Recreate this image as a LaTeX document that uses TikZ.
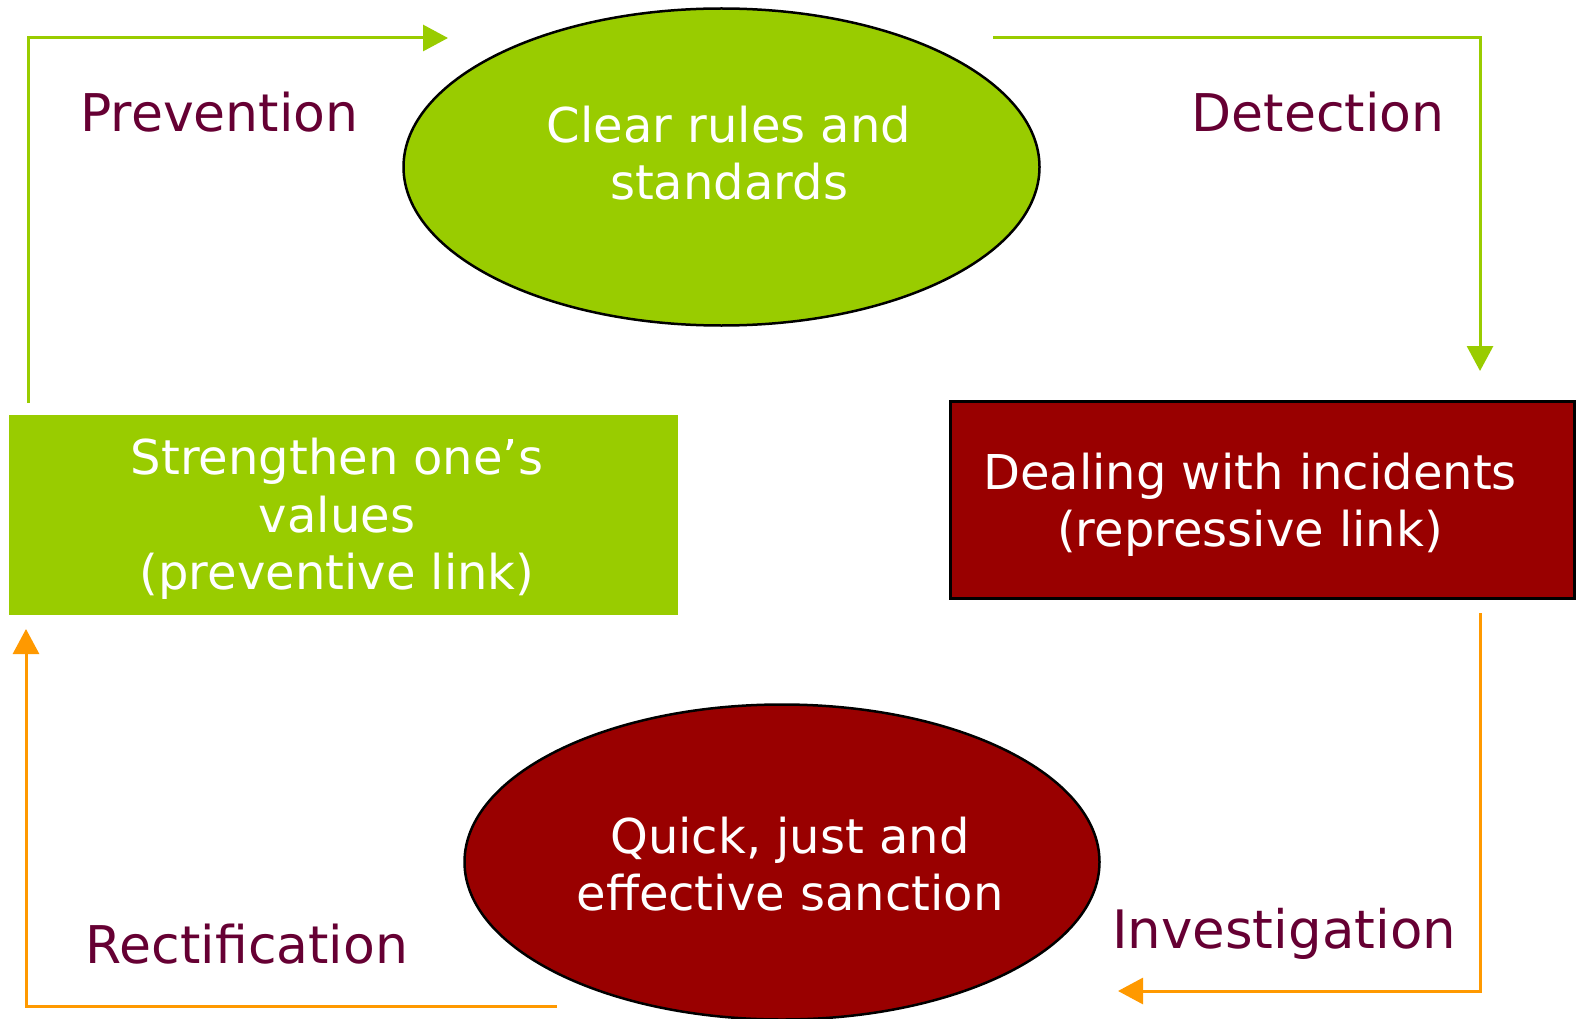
\documentclass[tikz,border=0pt]{standalone}
\usepackage{fontspec}
\setmainfont{DejaVu Sans}
\usetikzlibrary{arrows.meta,shapes.geometric}
\definecolor{lgreen}{HTML}{99CC00}
\definecolor{dred}{HTML}{990000}
\definecolor{plum}{HTML}{660033}
\definecolor{orng}{HTML}{FF9900}
\begin{document}
\begin{tikzpicture}[x=1pt,y=-1pt,
  ell/.style={ellipse, draw=black, line width=2.5pt, inner sep=0pt},
  nodetext/.style={text=white, font=\fontsize{48}{57.5}\selectfont, align=center, inner sep=0pt},
  lbl/.style={text=plum, font=\fontsize{52}{62}\selectfont, anchor=base, inner sep=0pt},
  conn/.style={line width=3pt, -{Triangle[length=25pt,width=26pt]}},
]
\useasboundingbox[fill=white] (0,0) rectangle (1581,1019);
% shapes
\node[ell, fill=lgreen, minimum width=636pt, minimum height=317pt] (clear) at (721.5,167) {};
\node[ell, fill=dred, minimum width=635pt, minimum height=315pt] (quick) at (782,862) {};
\node[fill=lgreen, minimum width=669pt, minimum height=200pt, inner sep=0pt] (str) at (343.5,515) {};
\node[fill=dred, draw=black, line width=2.5pt, minimum width=624pt, minimum height=197pt, inner sep=0pt] (deal) at (1262.5,500) {};
% texts
\node[nodetext] (clearT) at (729,153) {Clear rules and\\standards};
\node[nodetext] (strT) at (337,519) {Strengthen one’s\\values\\(preventive link)};
\node[nodetext] (dealT) at (1250,505) {Dealing with incidents\\(repressive link)};
\node[nodetext] (quickT) at (790,864) {Quick, just and\\effective sanction};
% labels
\node[lbl] (prev) at (219.5,132) {Prevention};
\node[lbl] (det) at (1318,132) {Detection};
\node[lbl] (rect) at (247,963) {Rectification};
\node[lbl, font=\fontsize{53}{63}\selectfont] (inv) at (1284,948) {Investigation};
% connector ends
\coordinate (g1s) at (28,403);
\coordinate (g1e) at (448,38);
\coordinate (g2s) at (993,38);
\coordinate (g2e) at (1480,371);
\coordinate (o1s) at (1480,613);
\coordinate (o1e) at (1118,991);
\coordinate (o2s) at (557,1006);
\coordinate (o2e) at (26,629);
\draw[conn, lgreen] (g1s) |- (g1e);
\draw[conn, lgreen] (g2s) -| (g2e);
\draw[conn, orng] (o1s) |- (o1e);
\draw[conn, orng] (o2s) -| (o2e);
\end{tikzpicture}
\end{document}
